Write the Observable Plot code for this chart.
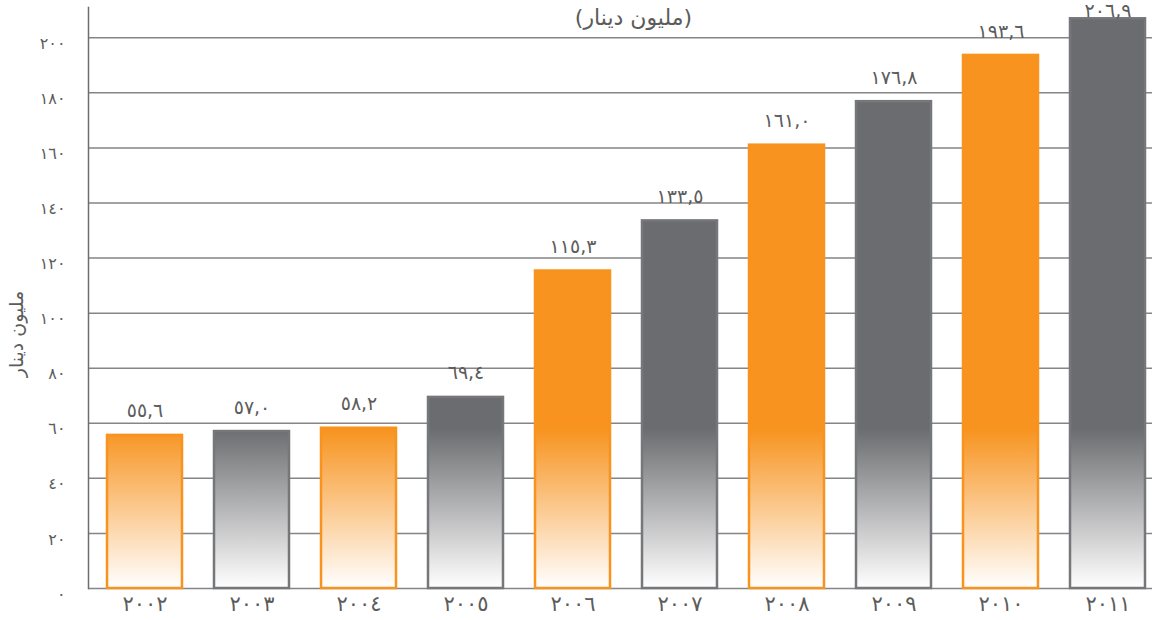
<!DOCTYPE html>
<html>
<head>
<meta charset="utf-8">
<script src="https://cdn.jsdelivr.net/npm/d3@7"></script>
<script src="https://cdn.jsdelivr.net/npm/@observablehq/plot@0.6"></script>
<style>
  html, body { margin: 0; padding: 0; background: #ffffff; }
  #wrap { position: relative; width: 1152px; height: 620px; }
  #chart svg { display: block; }
  #ytitle {
    position: absolute; left: 16px; top: 334px;
    transform: translate(-50%, -50%) rotate(-90deg);
    font-family: 'DejaVu Sans', sans-serif; font-size: 19px; color: #5c5c5c;
    white-space: nowrap; direction: rtl; line-height: 1;
  }
</style>
</head>
<body>
<div id="wrap"><div id="chart"></div><div id="ytitle"></div></div>
<script>
// ---- Data ----
const years = ["2002", "2003", "2004", "2005", "2006", "2007", "2008", "2009", "2010", "2011"];
const yearLabels = ["٢٠٠٢", "٢٠٠٣", "٢٠٠٤", "٢٠٠٥", "٢٠٠٦", "٢٠٠٧", "٢٠٠٨", "٢٠٠٩", "٢٠١٠", "٢٠١١"];
const values = [55.6, 57.0, 58.2, 69.4, 115.3, 133.5, 161.0, 176.8, 193.6, 206.9];
const valueLabels = ["٥٥,٦", "٥٧,٠", "٥٨,٢", "٦٩,٤", "١١٥,٣", "١٣٣,٥", "١٦١,٠", "١٧٦,٨", "١٩٣,٦", "٢٠٦,٩"];
const yTicks = [0, 20, 40, 60, 80, 100, 120, 140, 160, 180, 200];
const yTickLabels = ["٠", "٢٠", "٤٠", "٦٠", "٨٠", "١٠٠", "١٢٠", "١٤٠", "١٦٠", "١٨٠", "٢٠٠"];
const titleText = "(مليون دينار)";
const yTitleText = "مليون دينار";

// ---- Styles ----
const ORANGE = "#F7931E";
const GRAY = "#6B6C6F";
const GRAY_STROKE = "#76777A";
const TEXT = "#5c5c5c";
const GRID = "#858585";
const FADE_START = 58; // value where the vertical fade begins

const data = years.map((year, i) => ({year, value: values[i], label: valueLabels[i], i}));
const orangeBars = data.filter(d => d.i % 2 === 0);
const grayBars = data.filter(d => d.i % 2 === 1);

function gradients(index, scales) {
  const ns = "http://www.w3.org/2000/svg";
  const defs = document.createElementNS(ns, "defs");
  [["gOrange", ORANGE], ["gGray", GRAY]].forEach(([id, c]) => {
    const g = document.createElementNS(ns, "linearGradient");
    g.setAttribute("id", id);
    g.setAttribute("gradientUnits", "userSpaceOnUse");
    g.setAttribute("x1", 0);
    g.setAttribute("x2", 0);
    g.setAttribute("y1", scales.y(FADE_START));
    g.setAttribute("y2", scales.y(0));
    const s1 = document.createElementNS(ns, "stop");
    s1.setAttribute("offset", "0");
    s1.setAttribute("stop-color", c);
    const s2 = document.createElementNS(ns, "stop");
    s2.setAttribute("offset", "1");
    s2.setAttribute("stop-color", "#ffffff");
    g.appendChild(s1);
    g.appendChild(s2);
    defs.appendChild(g);
  });
  return defs;
}

const labelFor = new Map(years.map((y, i) => [y, yearLabels[i]]));
const tickLabelFor = new Map(yTicks.map((t, i) => [t, yTickLabels[i]]));

const chart = Plot.plot({
  width: 1152,
  height: 620,
  marginTop: 7,
  marginBottom: 32,
  marginLeft: 88,
  marginRight: 0,
  style: {fontFamily: "'DejaVu Sans', sans-serif", fontSize: "16px", color: TEXT, background: "#ffffff", overflow: "visible"},
  x: {type: "band", domain: years, range: [89, 1162], paddingInner: 0.3, paddingOuter: 0.15},
  y: {domain: [0, 211]},
  marks: [
    gradients,
    Plot.ruleY(yTicks, {stroke: GRID, strokeWidth: 1.5}),
    Plot.frame({anchor: "left", stroke: "#6e6e6e", strokeWidth: 1.5}),
    Plot.barY(orangeBars, {x: "year", y: "value", fill: "url(#gOrange)", stroke: ORANGE, strokeWidth: 2.5}),
    Plot.barY(grayBars, {x: "year", y: "value", fill: "url(#gGray)", stroke: GRAY_STROKE, strokeWidth: 2.5}),
    Plot.text(data, {
      x: "year", y: "value", text: "label", dy: -24, fontSize: 19, fill: TEXT,
      render(index, scales, values, dimensions, context, next) {
        const minY = dimensions.marginTop + 27;
        const Y = Array.from(values.y, v => Math.max(v, minY));
        return next(index, scales, {...values, y: Y}, dimensions, context);
      }
    }),
    Plot.axisY({ticks: yTicks, tickFormat: t => tickLabelFor.get(t), tickSize: 0, tickPadding: 23, dy: 6, fontSize: 16, label: null, fill: TEXT}),
    Plot.axisX({tickFormat: y => labelFor.get(y), tickSize: 0, tickPadding: 8, fontSize: 21, label: null, fill: TEXT}),
    Plot.text([titleText], {text: d => d, frameAnchor: "top", dx: 13, dy: 2, fontSize: 22, fill: TEXT})
  ]
});
document.getElementById("chart").appendChild(chart);
document.getElementById("ytitle").textContent = yTitleText;
</script>
</body>
</html>
